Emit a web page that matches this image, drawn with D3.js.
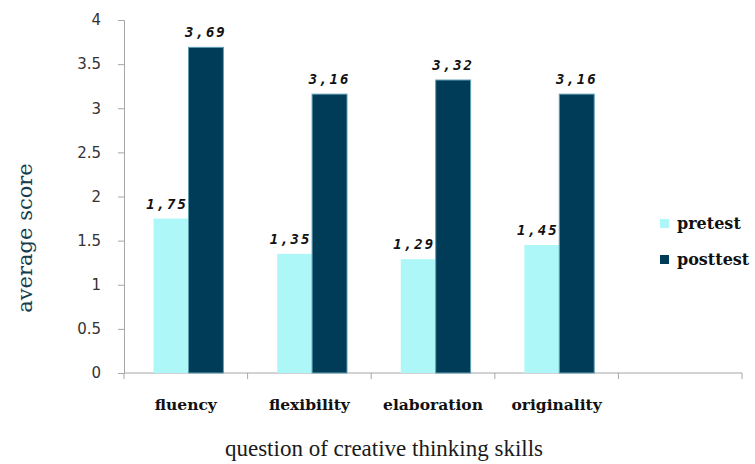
<!DOCTYPE html>
<html>
<head>
<meta charset="utf-8">
<script src="https://cdn.jsdelivr.net/npm/d3@7"></script>
<style>
  html, body { margin: 0; padding: 0; background: #fff; }
  svg { display: block; }
</style>
</head>
<body>
<svg id="chart" width="755" height="464"></svg>
<script>
const categories = ["fluency", "flexibility", "elaboration", "originality", ""];
const series = ["pretest", "posttest"];
const pretest = [1.75, 1.35, 1.29, 1.45];
const posttest = [3.69, 3.16, 3.32, 3.16];
const yTicks = [0, 0.5, 1, 1.5, 2, 2.5, 3, 3.5, 4];

const colors = { pretest: "#aef7f9", posttest: "#003c57" };

const svg = d3.select("#chart");
const margin = { left: 124, right: 13, top: 20, bottom: 91 };
const width = 755, height = 464;

const x0 = d3.scaleBand()
  .domain(categories)
  .range([margin.left, width - margin.right])
  .padding(0);

const x1 = d3.scaleBand()
  .domain(series)
  .range([0, x0.bandwidth()])
  .paddingInner(0)
  .paddingOuter(0.77)
  .align(0.55);

const y = d3.scaleLinear()
  .domain([0, 4])
  .range([height - margin.bottom, margin.top]);

const rows = categories.slice(0, pretest.length).map((c, i) => ({
  category: c,
  values: [
    { key: "pretest", value: pretest[i] },
    { key: "posttest", value: posttest[i] }
  ]
}));

// y axis
const yAxis = svg.append("g")
  .attr("transform", `translate(${margin.left},0)`)
  .call(d3.axisLeft(y).tickValues(yTicks).tickSize(6).tickPadding(17)
    .tickFormat(d => String(d)));
yAxis.select(".domain").attr("stroke", "#a6a6a6");
yAxis.selectAll(".tick line").attr("stroke", "#a6a6a6");
yAxis.selectAll(".tick text")
  .attr("fill", "#333")
  .style("font", "15px 'DejaVu Sans', Verdana, sans-serif");

// x axis: ticks at band boundaries
const xAxis = svg.append("g")
  .attr("transform", `translate(0,${y(0)})`);
xAxis.append("line")
  .attr("x1", x0.range()[0]).attr("x2", x0.range()[1])
  .attr("stroke", "#a6a6a6");
const boundaries = categories.map(c => x0(c)).concat([x0.range()[1]]);
xAxis.selectAll(".bt")
  .data(boundaries)
  .join("line")
  .attr("x1", d => d).attr("x2", d => d)
  .attr("y1", 0).attr("y2", 6)
  .attr("stroke", "#a6a6a6");
xAxis.selectAll(".cat")
  .data(categories)
  .join("text")
  .attr("x", d => x0(d) + x0.bandwidth() / 2)
  .attr("y", 37)
  .attr("text-anchor", "middle")
  .attr("fill", "#111")
  .style("font", "bold 15.5px 'DejaVu Serif', serif")
  .text(d => d);

// bars
const groups = svg.append("g")
  .selectAll("g")
  .data(rows)
  .join("g")
  .attr("transform", d => `translate(${x0(d.category)},0)`);

groups.selectAll("rect")
  .data(d => d.values)
  .join("rect")
  .attr("x", d => x1(d.key))
  .attr("y", d => y(d.value))
  .attr("width", x1.bandwidth())
  .attr("height", d => y(0) - y(d.value))
  .attr("fill", d => colors[d.key])
  .attr("stroke", d => d.key === "posttest" ? "#5f9fb2" : "none")
  .attr("stroke-width", 1);

groups.selectAll("text")
  .data(d => d.values)
  .join("text")
  .attr("x", d => x1(d.key) + x1.bandwidth() / 2 + (d.key === "pretest" ? -4 : 0))
  .attr("y", d => y(d.value) - 10)
  .attr("text-anchor", "middle")
  .attr("fill", "#111")
  .style("font", "italic bold 14px 'DejaVu Sans Mono', monospace")
  .style("letter-spacing", "2px")
  .text(d => d3.format(".2f")(d.value).replace(".", ","));

// legend
const legend = svg.append("g");
series.forEach((s, i) => {
  const ly = 223 + i * 36;
  legend.append("rect")
    .attr("x", 660).attr("y", ly - 4)
    .attr("width", 9).attr("height", 9)
    .attr("fill", colors[s]);
  legend.append("text")
    .attr("x", 677).attr("y", ly + 6)
    .attr("fill", "#111")
    .style("font", "bold 16px 'DejaVu Serif', serif")
    .text(s);
});

// axis titles
svg.append("text")
  .attr("x", 384).attr("y", 456)
  .attr("text-anchor", "middle")
  .attr("fill", "#1a1a1a")
  .style("font", "23px 'Liberation Serif', 'Times New Roman', serif")
  .text("question of creative thinking skills");

svg.append("text")
  .attr("transform", "translate(32,238) rotate(-90)")
  .attr("text-anchor", "middle")
  .attr("fill", "#153d4c")
  .style("font", "21px 'DejaVu Serif', serif")
  .text("average score");
</script>
</body>
</html>
